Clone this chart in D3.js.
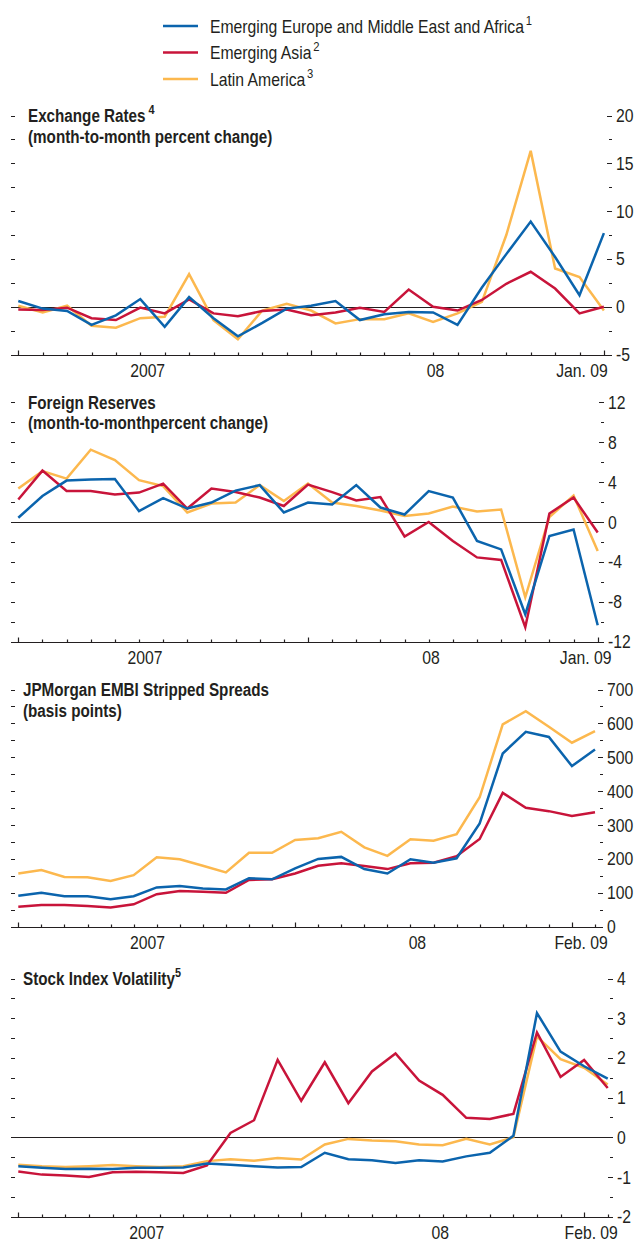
<!DOCTYPE html>
<html>
<head>
<meta charset="utf-8">
<script src="https://cdn.jsdelivr.net/npm/d3@7"></script>
<style>
  body { margin: 0; background: #fff; }
  svg { display: block; font-family: "Liberation Sans", Arial, Helvetica, sans-serif; }
</style>
</head>
<body>
<div id="chart"></div>
<script>
// months on the x axis (Jan. 2007 - Feb. 2009)
var months = ["2007-01","2007-02","2007-03","2007-04","2007-05","2007-06","2007-07","2007-08","2007-09","2007-10","2007-11","2007-12",
              "2008-01","2008-02","2008-03","2008-04","2008-05","2008-06","2008-07","2008-08","2008-09","2008-10","2008-11","2008-12",
              "2009-01","2009-02"];

var seriesNames = ["Emerging Europe and Middle East and Africa", "Emerging Asia", "Latin America"];
var seriesNotes = ["1", "2", "3"];
var seriesColors = ["#0b64ad", "#c8143a", "#fcb84e"];

// Exchange rates, month-to-month percent change (Jan. 07 - Jan. 09)
var fxEurope = [0.6, -0.2, -0.45, -1.9, -0.9, 0.8, -2.1, 1.0, -1.2, -3.1, -1.7, -0.2, 0.1, 0.6, -1.4, -0.8, -0.55, -0.6, -1.9, 2.0, 5.5, 8.9, 5.2, 1.2, 7.7];
var fxAsia   = [-0.3, -0.35, -0.1, -1.2, -1.4, -0.1, -0.7, 0.75, -0.7, -1.0, -0.45, -0.3, -0.9, -0.6, -0.1, -0.55, 1.8, 0.0, -0.4, 0.7, 2.4, 3.65, 1.9, -0.7, 0.0];
var fxLatam  = [0.1, -0.6, 0.1, -2.0, -2.2, -1.2, -1.05, 3.4, -1.4, -3.4, -0.4, 0.3, -0.4, -1.75, -1.3, -1.3, -0.7, -1.6, -0.7, 0.5, 7.5, 16.3, 4.0, 3.1, -0.4];

// Foreign reserves, month-to-month percent change (Jan. 07 - Jan. 09)
var resEurope = [0.43, 2.6, 4.15, 4.25, 4.3, 1.1, 2.4, 1.35, 1.95, 3.15, 3.7, 0.95, 1.95, 1.75, 3.7, 1.45, 0.75, 3.1, 2.45, -1.9, -2.75, -9.25, -1.4, -0.75, -10.35];
var resAsia   = [2.25, 5.15, 3.1, 3.1, 2.75, 2.95, 3.85, 1.35, 3.35, 3.0, 2.45, 1.6, 3.75, 3.0, 2.15, 2.5, -1.45, 0.0, -1.9, -3.55, -3.8, -10.55, 0.85, 2.45, -1.05];
var resLatam  = [3.35, 5.1, 4.35, 7.25, 6.2, 4.2, 3.6, 0.95, 1.85, 1.95, 3.7, 2.1, 3.85, 1.95, 1.6, 1.15, 0.6, 0.85, 1.55, 1.05, 1.25, -7.55, 0.5, 2.65, -2.9];

// JPMorgan EMBI stripped spreads, basis points (Jan. 07 - Feb. 09)
var embiEurope = [91, 100, 90, 90, 81, 90, 116, 120, 113, 110, 143, 140, 172, 200, 206, 170, 157, 199, 189, 202, 305, 511, 575, 560, 474, 523];
var embiAsia   = [59, 64, 64, 61, 57, 66, 96, 105, 103, 100, 138, 140, 157, 180, 187, 179, 170, 187, 189, 208, 259, 395, 351, 341, 327, 338];
var embiLatam  = [157, 167, 147, 146, 135, 152, 205, 199, 180, 160, 218, 218, 256, 261, 280, 234, 209, 258, 254, 273, 382, 597, 636, 590, 543, 577];

// Stock index volatility (Jan. 07 - Feb. 09)
var volEurope = [-0.73, -0.77, -0.8, -0.79, -0.8, -0.77, -0.77, -0.76, -0.66, -0.69, -0.73, -0.76, -0.75, -0.39, -0.55, -0.58, -0.65, -0.58, -0.61, -0.48, -0.39, 0.04, 3.13, 2.16, 1.79, 1.48];
var volAsia   = [-0.86, -0.94, -0.96, -1.0, -0.88, -0.87, -0.88, -0.9, -0.71, 0.11, 0.43, 1.95, 0.92, 1.89, 0.86, 1.66, 2.11, 1.43, 1.07, 0.49, 0.46, 0.59, 2.64, 1.52, 1.95, 1.24];
var volLatam  = [-0.69, -0.73, -0.75, -0.73, -0.7, -0.73, -0.75, -0.73, -0.6, -0.55, -0.59, -0.52, -0.56, -0.18, -0.04, -0.08, -0.1, -0.18, -0.2, -0.04, -0.18, 0.0, 2.54, 1.97, 1.75, 1.33];

// panel layout
var panels = [
  { title: ["Exchange Rates", "(month-to-month percent change)"], note: " 4", titleX: 28,
    series: [fxEurope, fxAsia, fxLatam], domain: [-5, 20], major: 5, minor: 2.5, zero: true,
    x0: 18.3, x1: 603.9, right: 612, top: 115.5, bottom: 354.5,
    xLabels: [["2007", 5.3], ["08", 17.1], ["Jan. 09", 23.1]] },
  { title: ["Foreign Reserves", "(month-to-monthpercent change)"], note: "", titleX: 28,
    series: [resEurope, resAsia, resLatam], domain: [-12, 12], major: 4, minor: 2, zero: true,
    x0: 18.3, x1: 597.7, right: 604, top: 402.3, bottom: 641.7,
    xLabels: [["2007", 5.25], ["08", 17.1], ["Jan. 09", 23.5]] },
  { title: ["JPMorgan EMBI Stripped Spreads", "(basis points)"], note: "", titleX: 23,
    series: [embiEurope, embiAsia, embiLatam], domain: [0, 700], major: 100, minor: 50, zero: false,
    x0: 18.3, x1: 595, right: 603, top: 689.5, bottom: 926.7,
    xLabels: [["2007", 5.6], ["08", 17.3], ["Feb. 09", 24.4]] },
  { title: ["Stock Index Volatility"], note: "5", titleX: 23,
    series: [volEurope, volAsia, volLatam], domain: [-2, 4], major: 1, minor: 0.5, zero: true,
    x0: 18.3, x1: 607.7, right: 613, top: 978.5, bottom: 1216.7,
    xLabels: [["2007", 5.45], ["08", 17.9], ["Feb. 09", 24.3]] }
];

var width = 636, height = 1243, left = 11, ink = "#231f20";
var fontSize = 17.5, narrow = 0.9, narrowBold = 0.87;

var svg = d3.select("#chart").append("svg")
    .attr("width", width)
    .attr("height", height);

svg.append("rect").attr("width", width).attr("height", height).attr("fill", "#fff");

// condensed text: a normal sans squeezed sideways
function addText(parent, x, y, str, bold) {
    return parent.append("text")
        .attr("transform", "translate(" + x + "," + y + ") scale(" + (bold ? narrowBold : narrow) + ",1)")
        .attr("font-size", fontSize)
        .attr("font-weight", bold ? "bold" : "normal")
        .attr("fill", ink)
        .text(str);
}

// legend
var legend = svg.append("g").attr("transform", "translate(163,0)");
seriesNames.forEach(function(name, i) {
    var yy = 26 + i * 26.5;
    legend.append("line")
        .attr("x1", 0).attr("x2", 35).attr("y1", yy).attr("y2", yy)
        .attr("stroke", seriesColors[i]).attr("stroke-width", 2.6);
    var t = addText(legend, 47, yy + 6.5, name, false);
    t.append("tspan").attr("font-size", 12.5).attr("dy", -8).attr("dx", 2).text(seriesNotes[i]);
});

panels.forEach(function(p) {
    var n = p.series[0].length;
    var x = d3.scalePoint().domain(months.slice(0, n)).range([p.x0, p.x1]);
    var y = d3.scaleLinear().domain(p.domain).range([p.bottom, p.top]);
    var g = svg.append("g");

    // y ticks, left and right
    var ticks = d3.range(p.domain[0], p.domain[1] + p.minor / 2, p.minor);
    ticks.forEach(function(v) {
        var isMajor = Math.abs(v / p.major - Math.round(v / p.major)) < 1e-6;
        var yy = Math.round(y(v)) + 0.5;
        g.append("line").attr("x1", left).attr("x2", left + 4).attr("y1", yy).attr("y2", yy)
            .attr("stroke", ink).attr("stroke-width", 1);
        g.append("line").attr("x1", p.right - (isMajor ? 5 : 3)).attr("x2", p.right).attr("y1", yy).attr("y2", yy)
            .attr("stroke", ink).attr("stroke-width", 1);
        if (isMajor) {
            addText(g, p.right + 4, y(v) + 6.5, String(Math.round(v)), false);
        }
    });

    // zero line
    if (p.zero) {
        var zy = Math.round(y(0)) + 0.5;
        g.append("line").attr("x1", left).attr("x2", p.right).attr("y1", zy).attr("y2", zy)
            .attr("stroke", ink).attr("stroke-width", 1);
    }

    // x axis
    var by = Math.round(p.bottom) + 0.5;
    g.append("line").attr("x1", left).attr("x2", p.right).attr("y1", by).attr("y2", by)
        .attr("stroke", ink).attr("stroke-width", 1.2);
    x.domain().forEach(function(m) {
        var isYear = m.slice(5) === "01";
        var xx = Math.round(x(m)) + 0.5;
        g.append("line").attr("x1", xx).attr("x2", xx).attr("y1", by).attr("y2", by - (isYear ? 5 : 3))
            .attr("stroke", ink).attr("stroke-width", 1.2);
    });
    var step = x.step();
    p.xLabels.forEach(function(l) {
        addText(g, p.x0 + l[1] * step, p.bottom + 22, l[0], false).attr("text-anchor", "middle");
    });

    // title
    p.title.forEach(function(line, i) {
        var t = addText(g, p.titleX, p.top + 6.5 + i * 20.5, line, true);
        if (i === 0 && p.note) {
            t.append("tspan").attr("font-size", 12.5).attr("dy", -8).text(p.note);
        }
    });

    // lines, Latin America first so Europe ends on top
    var line = d3.line()
        .x(function(d, i) { return x(months[i]); })
        .y(function(d) { return y(d); });
    [2, 1, 0].forEach(function(k) {
        g.append("path").datum(p.series[k])
            .attr("fill", "none")
            .attr("stroke", seriesColors[k])
            .attr("stroke-width", 2.5)
            .attr("stroke-linejoin", "miter")
            .attr("d", line);
    });
});
</script>
</body>
</html>
